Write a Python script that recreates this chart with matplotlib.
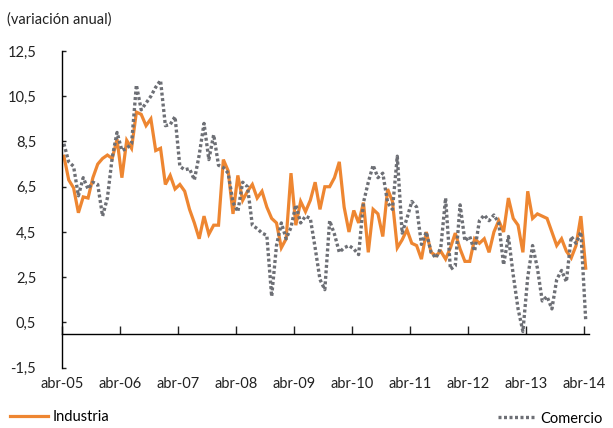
import matplotlib
matplotlib.use("Agg")
import matplotlib.pyplot as plt
import numpy as np

plt.rcParams['font.family'] = ['Lato', 'DejaVu Sans']

# monthly, abr-05 .. abr-14
industria = [7.85, 6.8, 6.45, 5.35, 6.05, 6.0, 6.9, 7.5, 7.75, 7.9, 7.75, 8.6,
             6.9, 8.55, 8.2, 9.8, 9.7, 9.2, 9.5, 8.1, 8.2, 6.6, 7.0, 6.4,
             6.6, 6.3, 5.5, 4.9, 4.2, 5.2, 4.4, 4.8, 4.8, 7.7, 7.2, 5.3,
             7.0, 5.9, 6.3, 6.6, 6.0, 6.3, 5.6, 5.1, 4.9, 3.8, 4.2, 7.1,
             4.8, 5.85, 5.4, 5.9, 6.7, 5.5, 6.5, 6.5, 6.9, 7.6, 5.6, 4.5,
             5.45, 4.9, 5.8, 3.6, 5.5, 5.3, 4.3, 6.4, 5.85, 3.8, 4.15, 4.6,
             4.0, 3.9, 3.3, 4.5, 3.6, 3.45, 3.65, 3.3, 3.8, 4.45, 3.75, 3.2,
             3.2, 4.2, 4.0, 4.2, 3.6, 4.5, 5.0, 4.5, 6.0, 5.1, 4.8, 3.6,
             6.3, 5.1, 5.3, 5.2, 5.1, 4.5, 3.9, 4.2, 3.65, 3.35, 3.9, 5.2,
             2.9]
comercio = [8.4, 7.6, 7.4, 6.1, 6.9, 6.4, 6.7, 6.6, 5.2, 6.0, 7.8, 8.9,
            8.1, 8.2, 8.4, 11.0, 9.9, 10.2, 10.5, 10.9, 11.2, 9.2, 9.25, 9.6,
            7.4, 7.25, 7.3, 6.8, 7.9, 9.3, 7.7, 8.8, 7.45, 7.35, 7.1, 5.8,
            5.4, 6.7, 6.5, 4.8, 4.65, 4.45, 4.35, 1.65, 3.9, 4.9, 4.2, 4.7,
            5.7, 4.9, 5.2, 5.1, 3.8, 2.4, 1.95, 5.0, 4.4, 3.6, 3.8, 3.9,
            3.75, 3.5, 5.8, 6.7, 7.45, 6.9, 7.1, 5.8, 5.5, 7.85, 4.45, 5.1,
            5.85, 5.6, 3.95, 4.5, 3.6, 3.35, 3.8, 6.0, 2.85, 3.0, 5.7, 4.1,
            4.3, 3.65, 5.0, 5.25, 5.0, 5.25, 4.9, 3.05, 4.3, 2.6, 1.1, 0.1,
            2.5, 3.9, 2.9, 1.45, 1.65, 1.1, 2.4, 2.8, 2.3, 4.3, 4.0, 4.5,
            0.6]
tick_labels = ['abr-05', 'abr-06', 'abr-07', 'abr-08', 'abr-09',
               'abr-10', 'abr-11', 'abr-12', 'abr-13', 'abr-14']
y_ticks = [-1.5, 0.5, 2.5, 4.5, 6.5, 8.5, 10.5, 12.5]

x = np.arange(len(industria))

fig = plt.figure(figsize=(6.13, 4.28), dpi=100)
ax = fig.add_axes([0.1011, 0.1409, 0.8599, 0.7399])

l1, = ax.plot(x, industria, color='#EE8631', lw=2.3, solid_joinstyle='miter')
l2, = ax.plot(x, comercio, color='#6D6F75', lw=2.4,
              linestyle=(0, (0.9, 0.75)), dash_capstyle='butt')

ax.set_ylim(-1.5, 12.5)
ax.set_xlim(-0.4, 108.7)
ax.set_yticks(y_ticks)
ax.set_yticklabels([f'{v:.1f}'.replace('.', ',') for v in y_ticks])
ax.set_xticks([12 * i - 0.4 for i in range(len(tick_labels))])
ax.set_xticklabels(tick_labels)

for s in ['top', 'right']:
    ax.spines[s].set_visible(False)
ax.spines['left'].set_linewidth(1.0)
ax.spines['bottom'].set_position(('data', 0))
ax.spines['bottom'].set_linewidth(1.0)
ax.tick_params(axis='y', direction='in', length=3, width=1, pad=18.5,
               labelsize=10.5, colors='#222222')
ax.tick_params(axis='x', direction='in', length=5.5, width=1, pad=31,
               labelsize=10.5, colors='#222222')

fig.text(0.0115, 0.955, '(variación anual)', fontsize=10.5, va='center',
         color='#222222')

fig.legend([l1], ['Industria'], loc='center left',
           bbox_to_anchor=(-0.005, 0.025), frameon=False,
           fontsize=10.5, handlelength=2.6, handletextpad=0.3)
fig.legend([l2], ['Comercio'], loc='center right',
           bbox_to_anchor=(1.005, 0.022), frameon=False,
           fontsize=10.5, handlelength=2.6, handletextpad=0.3)

fig.savefig('out.png', dpi=100)
